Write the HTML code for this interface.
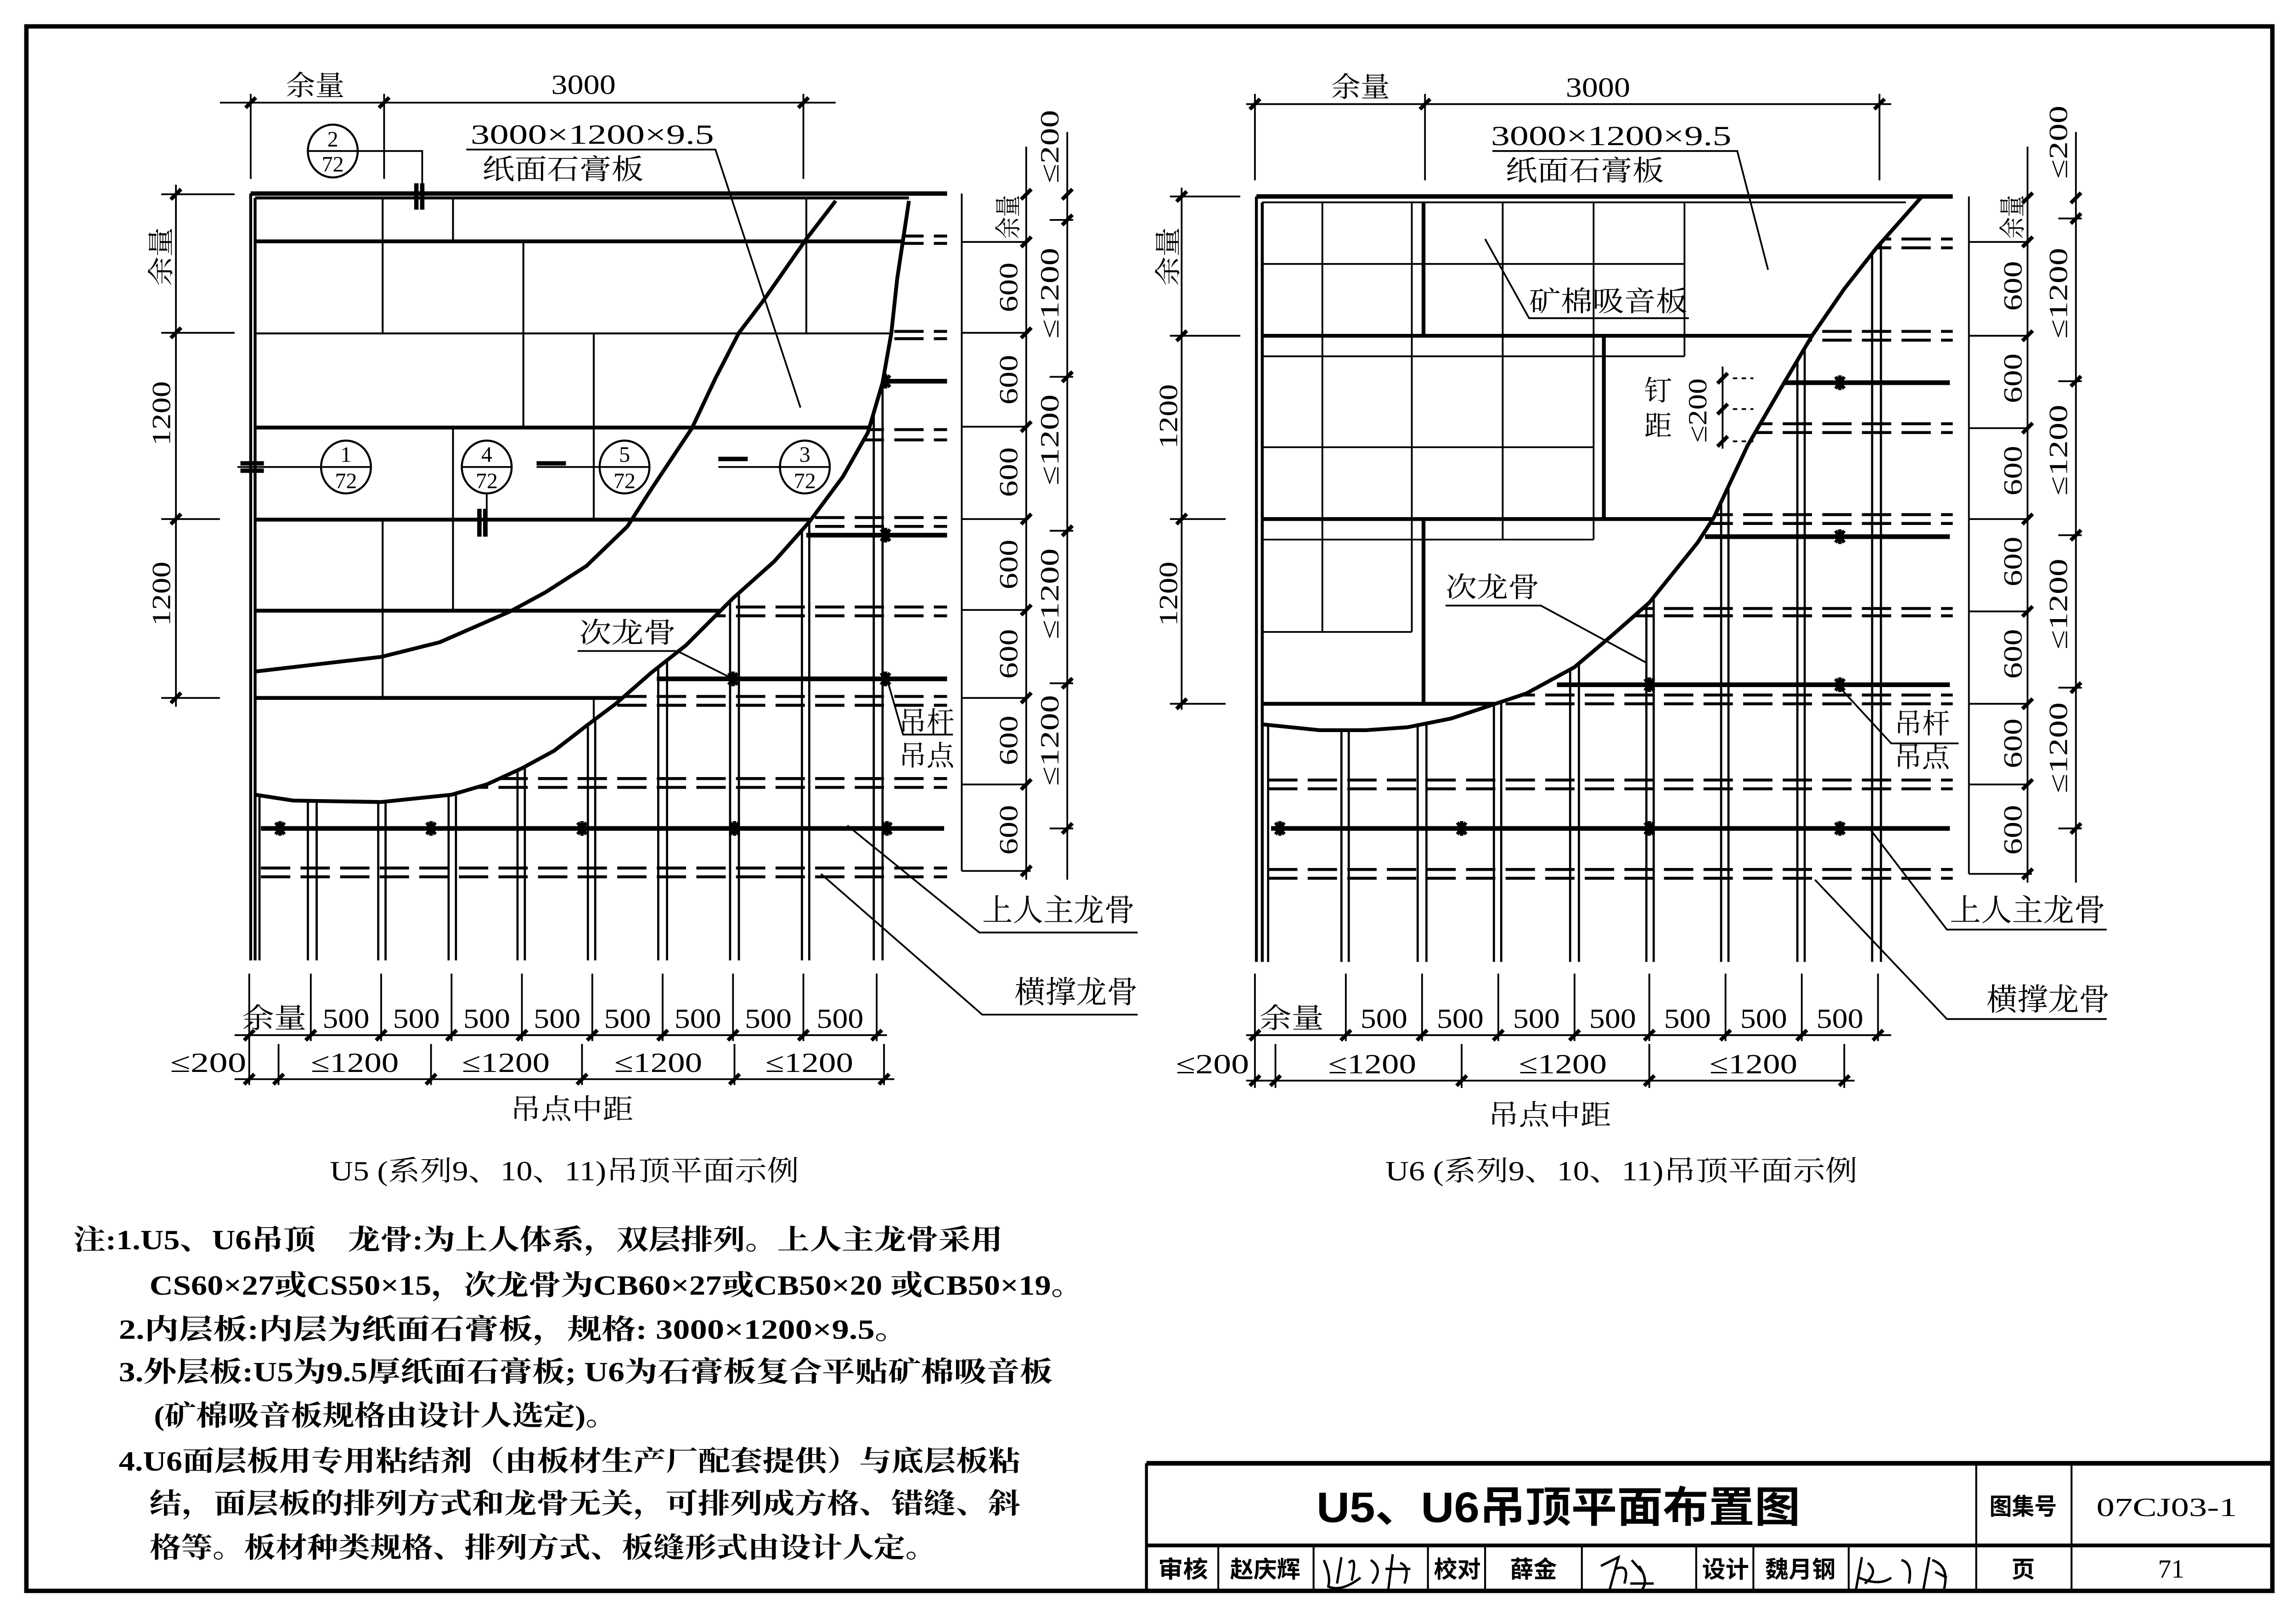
<!DOCTYPE html>
<html><head><meta charset="utf-8">
<style>
html,body{margin:0;padding:0;background:#fff;}
svg{display:block;}
text{font-family:"Liberation Serif","Noto Serif CJK SC",serif;fill:#000;}
.s{font-family:"Liberation Sans","Noto Sans CJK SC",sans-serif;}
</style></head>
<body>
<svg xmlns="http://www.w3.org/2000/svg" width="5006" height="3523" viewBox="0 0 1568 1103.5" preserveAspectRatio="none">
<defs>
<path id="tk" d="M-3.5,3.5 L3.5,-3.5" stroke="#000" stroke-width="2.6" fill="none"/>
<path id="hg" d="M-3,-4 L3,4 M3,-4 L-3,4 M0,-5 V5" stroke="#000" stroke-width="2.4" fill="none"/>
<clipPath id="c1"><path d="M171,132 L620,132 L620,137 L612,190 L608,227 L602,261 L592,295 L575,325 L552,356 L528,383 L500,408 L468,440 L444,459 L420,480 L400,495 L378,512 L356,524 L332,535 L308,542 L260,547 L200,546 L174,542 L171,542 Z"/></clipPath>
<clipPath id="c2"><path d="M857,134 L1311,134 L1280,169 L1258,197 L1236,229 L1217,261 L1192,304 L1169,353 L1158,370 L1125,411 L1100,433 L1074,455 L1041,473 L990,490 L960,496 L932,498 L900,498 L861,494 L857,494 Z"/></clipPath>
</defs>
<rect x="0" y="0" width="1568" height="1103.5" fill="#fff"/>
<!-- outer frame -->
<rect x="18" y="18" width="1532" height="1067" fill="none" stroke="#000" stroke-width="3"/>

<!-- ================= U5 ================= -->
<g stroke="#000" fill="none">
<!-- keels -->
<g stroke-width="1.5">
<path d="M171,132V655 M177,132V655 M210,132V655 M216,132V655 M258,132V655 M263,132V655 M306,132V655 M311,132V655 M353,132V655 M358,132V655 M401,132V655 M406,132V655 M449,132V655 M455,132V655 M498,132V655 M504,132V655 M547,132V655 M552,132V655 M596,132V655 M602,132V655"/>
</g>
<g stroke-width="2" stroke-dasharray="20 7">
<path d="M178,161H646 M178,166H646 M178,226H646 M178,231H646 M178,293H646 M178,300H646 M178,353H646 M178,359H646 M178,414H646 M178,420H646 M178,475H646 M178,481H646 M178,531H646 M178,537H646 M178,592H646 M178,598H646"/>
</g>
<g stroke-width="3.2">
<path d="M600,260H646 M550,365H646 M448,463H646 M178,565H644"/>
</g>
</g>
<g>
<use href="#hg" x="604" y="260"/><use href="#hg" x="604" y="365"/><use href="#hg" x="500" y="463"/><use href="#hg" x="604" y="463"/>
<use href="#hg" x="191" y="565"/><use href="#hg" x="294" y="565"/><use href="#hg" x="397" y="565"/><use href="#hg" x="501" y="565"/><use href="#hg" x="605" y="565"/>
</g>
<!-- board cutaway -->
<path d="M171,132 L620,132 L620,137 L612,190 L608,227 L602,261 L592,295 L575,325 L552,356 L528,383 L500,408 L468,440 L444,459 L420,480 L400,495 L378,512 L356,524 L332,535 L308,542 L260,547 L200,546 L174,542 L171,542 Z" fill="#fff" stroke="none"/>
<g clip-path="url(#c1)" stroke="#000" fill="none">
<path stroke-width="2.6" d="M174,164.6H620 M174,291.6H620 M174,354.4H620 M174,416.5H620 M174,476H620"/>
<path stroke-width="1.3" d="M174,227.4H620 M261,135V227 M309,135V165 M550,135V227 M357,165V292 M405,227V292 M309,292V416 M405,292V354 M261,354V476 M405,476V545 M261,416V476"/>
<path stroke-width="2.6" d="M570,137 L550,163 L520,206 L504,227 L488,258 L472,292 L444,334 L428,359 L400,386 L372,404 L348,417 L300,438 L260,448 L174,458"/>
</g>
<path d="M620,137 L612,190 L608,227 L602,261 L592,295 L575,325 L552,356 L528,383 L500,408 L468,440 L444,459 L420,480 L400,495 L378,512 L356,524 L332,535 L308,542 L260,547 L200,546 L174,542" fill="none" stroke="#000" stroke-width="2.6"/>
<path d="M171,132V655 M174,135V655 M171,132H646 M174,135H620" stroke="#000" stroke-width="2" fill="none"/>
<path d="M171,132H646" stroke="#000" stroke-width="3" fill="none"/>

<!-- U5 top dims -->
<g stroke="#000" stroke-width="1.2" fill="none">
<path d="M150,70H570 M171,64V122 M262,64V122 M548,64V122"/>
<path d="M120,126V482 M110,132.5H160 M110,227H160 M110,354H150 M110,476H150"/>
<!-- right dims -->
<path d="M656,132V594 M656,165H700 M656,227H700 M656,291H700 M656,354H700 M656,416H700 M656,476H700 M656,535H700 M656,594H703 M700,100V600"/>
<path d="M728,90V600 M716,150H732 M716,257H732 M716,362H732 M716,466H732 M716,565H732"/>
<!-- bottom dims -->
<path d="M170,664V740 M212,664V710 M260,664V710 M308,664V710 M356,664V710 M404,664V710 M452,664V710 M500,664V710 M548,664V710 M598,664V710 M160,706H605 M160,736H610 M190,712V740 M294,712V740 M397,712V740 M501,712V740 M603,712V740"/>
<!-- leaders -->
<path d="M578,563 L668,636 H776 M560,596 L670,692 H776 M605,463 L616,501 H650 M394,444 H462 L500,463 M318,102 H488 L546,278"/>
<!-- callout leaders -->
<path d="M244,103 H288 V132 M219,318.5 H162 M332,336 V366 M409,318.5 H366 M532,318.5 H490"/>
</g>
<g stroke="#000" stroke-width="3" fill="none">
<path d="M284,125V143 M288,125V143 M164,316H180 M164,321H180 M327,347V366 M331,347V366 M366,316H386 M490,313H510"/>
</g>
<g>
<use href="#tk" x="171" y="70"/><use href="#tk" x="262" y="70"/><use href="#tk" x="548" y="70"/>
<use href="#tk" x="120" y="132.5"/><use href="#tk" x="120" y="227"/><use href="#tk" x="120" y="354"/><use href="#tk" x="120" y="476"/>
<use href="#tk" x="700" y="132.5"/><use href="#tk" x="700" y="165"/><use href="#tk" x="700" y="227"/><use href="#tk" x="700" y="291"/><use href="#tk" x="700" y="354"/><use href="#tk" x="700" y="416"/><use href="#tk" x="700" y="476"/><use href="#tk" x="700" y="535"/><use href="#tk" x="700" y="594"/>
<use href="#tk" x="728" y="132.5"/><use href="#tk" x="728" y="150"/><use href="#tk" x="728" y="257"/><use href="#tk" x="728" y="362"/><use href="#tk" x="728" y="466"/><use href="#tk" x="728" y="565"/>
<use href="#tk" x="170" y="706"/><use href="#tk" x="212" y="706"/><use href="#tk" x="260" y="706"/><use href="#tk" x="308" y="706"/><use href="#tk" x="356" y="706"/><use href="#tk" x="404" y="706"/><use href="#tk" x="452" y="706"/><use href="#tk" x="500" y="706"/><use href="#tk" x="548" y="706"/><use href="#tk" x="598" y="706"/>
<use href="#tk" x="170" y="736"/><use href="#tk" x="190" y="736"/><use href="#tk" x="294" y="736"/><use href="#tk" x="397" y="736"/><use href="#tk" x="501" y="736"/><use href="#tk" x="603" y="736"/>
</g>
<!-- callout circles -->
<g stroke="#000" stroke-width="1.4" fill="#fff">
<ellipse cx="227" cy="103" rx="17" ry="18"/><ellipse cx="236" cy="318.5" rx="17" ry="18"/><ellipse cx="332" cy="318.5" rx="17" ry="18"/><ellipse cx="426" cy="318.5" rx="17" ry="18"/><ellipse cx="549" cy="318.5" rx="17" ry="18"/>
</g>
<g stroke="#000" stroke-width="1.2">
<path d="M210,103H244 M219,318.5H253 M315,318.5H349 M409,318.5H443 M532,318.5H566"/>
</g>
<g font-size="15" text-anchor="middle">
<text x="227" y="100">2</text><text x="227" y="117">72</text>
<text x="236" y="315">1</text><text x="236" y="333">72</text>
<text x="332" y="315">4</text><text x="332" y="333">72</text>
<text x="426" y="315">5</text><text x="426" y="333">72</text>
<text x="549" y="315">3</text><text x="549" y="333">72</text>
</g>
<!-- U5 labels -->
<g font-size="19" text-anchor="middle">
<text x="215" y="65" textLength="40" lengthAdjust="spacingAndGlyphs">余量</text>
<text x="398" y="64" textLength="44" lengthAdjust="spacingAndGlyphs">3000</text>
<text x="404" y="98" textLength="166" lengthAdjust="spacingAndGlyphs">3000×1200×9.5</text>
<text x="384" y="122" textLength="110" lengthAdjust="spacingAndGlyphs">纸面石膏板</text>
<text x="428" y="438" textLength="66" lengthAdjust="spacingAndGlyphs">次龙骨</text>
<text x="632" y="499" textLength="38" lengthAdjust="spacingAndGlyphs">吊杆</text>
<text x="632" y="522" textLength="38" lengthAdjust="spacingAndGlyphs">吊点</text>
<text x="722" y="628" font-size="21" textLength="104" lengthAdjust="spacingAndGlyphs">上人主龙骨</text>
<text x="734" y="684" font-size="21" textLength="84" lengthAdjust="spacingAndGlyphs">横撑龙骨</text>
<text x="187" y="701" textLength="44" lengthAdjust="spacingAndGlyphs">余量</text>
<text x="236" y="701" textLength="32" lengthAdjust="spacingAndGlyphs">500</text>
<text x="284" y="701" textLength="32" lengthAdjust="spacingAndGlyphs">500</text>
<text x="332" y="701" textLength="32" lengthAdjust="spacingAndGlyphs">500</text>
<text x="380" y="701" textLength="32" lengthAdjust="spacingAndGlyphs">500</text>
<text x="428" y="701" textLength="32" lengthAdjust="spacingAndGlyphs">500</text>
<text x="476" y="701" textLength="32" lengthAdjust="spacingAndGlyphs">500</text>
<text x="524" y="701" textLength="32" lengthAdjust="spacingAndGlyphs">500</text>
<text x="573" y="701" textLength="32" lengthAdjust="spacingAndGlyphs">500</text>
<text x="142" y="731" textLength="52" lengthAdjust="spacingAndGlyphs">≤200</text>
<text x="242" y="731" textLength="60" lengthAdjust="spacingAndGlyphs">≤1200</text>
<text x="345" y="731" textLength="60" lengthAdjust="spacingAndGlyphs">≤1200</text>
<text x="449" y="731" textLength="60" lengthAdjust="spacingAndGlyphs">≤1200</text>
<text x="552" y="731" textLength="60" lengthAdjust="spacingAndGlyphs">≤1200</text>
<text x="390" y="763" textLength="84" lengthAdjust="spacingAndGlyphs">吊点中距</text>
<text x="385" y="805" textLength="320" lengthAdjust="spacingAndGlyphs">U5 (系列9、10、11)吊顶平面示例</text>
</g>
<g font-size="18" text-anchor="middle">
<text transform="translate(110,175) rotate(-90)" y="6" textLength="40" lengthAdjust="spacingAndGlyphs">余量</text>
<text transform="translate(110,282) rotate(-90)" y="6" textLength="44" lengthAdjust="spacingAndGlyphs">1200</text>
<text transform="translate(110,405) rotate(-90)" y="6" textLength="44" lengthAdjust="spacingAndGlyphs">1200</text>
<text transform="translate(688,148) rotate(-90)" y="6" textLength="30" lengthAdjust="spacingAndGlyphs">余量</text>
<text transform="translate(688,196) rotate(-90)" y="6" textLength="34" lengthAdjust="spacingAndGlyphs">600</text>
<text transform="translate(688,259) rotate(-90)" y="6" textLength="34" lengthAdjust="spacingAndGlyphs">600</text>
<text transform="translate(688,322) rotate(-90)" y="6" textLength="34" lengthAdjust="spacingAndGlyphs">600</text>
<text transform="translate(688,385) rotate(-90)" y="6" textLength="34" lengthAdjust="spacingAndGlyphs">600</text>
<text transform="translate(688,446) rotate(-90)" y="6" textLength="34" lengthAdjust="spacingAndGlyphs">600</text>
<text transform="translate(688,505) rotate(-90)" y="6" textLength="34" lengthAdjust="spacingAndGlyphs">600</text>
<text transform="translate(688,566) rotate(-90)" y="6" textLength="34" lengthAdjust="spacingAndGlyphs">600</text>
<text transform="translate(716,100) rotate(-90)" y="6" textLength="50" lengthAdjust="spacingAndGlyphs">≤200</text>
<text transform="translate(716,200) rotate(-90)" y="6" textLength="62" lengthAdjust="spacingAndGlyphs">≤1200</text>
<text transform="translate(716,300) rotate(-90)" y="6" textLength="62" lengthAdjust="spacingAndGlyphs">≤1200</text>
<text transform="translate(716,405) rotate(-90)" y="6" textLength="62" lengthAdjust="spacingAndGlyphs">≤1200</text>
<text transform="translate(716,505) rotate(-90)" y="6" textLength="62" lengthAdjust="spacingAndGlyphs">≤1200</text>
</g>

<!-- ================= U6 ================= -->
<g stroke="#000" fill="none">
<g stroke-width="1.5">
<path d="M865,134V656 M915,134V656 M920,134V656 M967,134V656 M973,134V656 M1019,134V656 M1024,134V656 M1071,134V656 M1077,134V656 M1123,134V656 M1128,134V656 M1174,134V656 M1179,134V656 M1226,134V656 M1231,134V656 M1277,134V656 M1283,134V656"/>
</g>
<g stroke-width="2" stroke-dasharray="20 7">
<path d="M865,163H1332 M865,169H1332 M865,226H1332 M865,232H1332 M865,289H1332 M865,295H1332 M865,351H1332 M865,357H1332 M865,415H1332 M865,420H1332 M865,474H1332 M865,480H1332 M865,532H1332 M865,538H1332 M865,593H1332 M865,599H1332"/>
</g>
<g stroke-width="3.2">
<path d="M1217,261H1330 M1163,366H1330 M1062,467H1330 M867,565H1330"/>
</g>
</g>
<g>
<use href="#hg" x="1255" y="261"/><use href="#hg" x="1255" y="366"/><use href="#hg" x="1125" y="467"/><use href="#hg" x="1255" y="467"/>
<use href="#hg" x="873" y="565"/><use href="#hg" x="997" y="565"/><use href="#hg" x="1125" y="565"/><use href="#hg" x="1255" y="565"/>
</g>
<path d="M857,134 L1311,134 L1280,169 L1258,197 L1236,229 L1217,261 L1192,304 L1169,353 L1158,370 L1125,411 L1100,433 L1074,455 L1041,473 L990,490 L960,496 L932,498 L900,498 L861,494 L857,494 Z" fill="#fff" stroke="none"/>
<g clip-path="url(#c2)" stroke="#000" fill="none">
<path stroke-width="1.2" d="M902,138V431 M963,138V431 M1025,138V368 M1087,138V368 M1149,138V243 M861,180H1149 M861,243H1149 M861,305H1087 M861,368H1087 M861,431H963"/>
<path stroke-width="2.6" d="M861,229H1240 M861,354H1170 M861,480H1045 M971,138V229 M1094,229V354 M971,354V480"/>
<path stroke-width="1.2" d="M861,138H1300"/>
</g>
<path d="M1311,134 L1280,169 L1258,197 L1236,229 L1217,261 L1192,304 L1169,353 L1158,370 L1125,411 L1100,433 L1074,455 L1041,473 L990,490 L960,496 L932,498 L900,498 L861,494" fill="none" stroke="#000" stroke-width="2.6"/>
<path d="M857,134V656 M861,138V656" stroke="#000" stroke-width="2" fill="none"/>
<path d="M857,134H1332" stroke="#000" stroke-width="3" fill="none"/>

<g stroke="#000" stroke-width="1.2" fill="none">
<path d="M850,71H1290 M856,64V123 M972,64V123 M1282,64V123"/>
<path d="M806,128V484 M798,134H846 M798,229H846 M798,354H836 M798,480H836"/>
<path d="M1343,134V596 M1343,165H1383 M1343,229H1383 M1343,292H1383 M1343,354H1383 M1343,417H1383 M1343,480H1383 M1343,535H1383 M1343,596H1386 M1383,100V602"/>
<path d="M1416,90V602 M1404,149H1420 M1404,260H1420 M1404,365H1420 M1404,469H1420 M1404,565H1420"/>
<path d="M856,664V742 M918,664V710 M970,664V710 M1022,664V710 M1074,664V710 M1125,664V710 M1177,664V710 M1229,664V710 M1281,664V710 M850,706H1290 M850,737H1265 M870,712V742 M997,712V742 M1125,712V742 M1258,712V742"/>
<path d="M1276,566 L1328,634 H1437 M1238,600 L1328,695 H1437 M1255,469 L1290,507 H1336 M986,413 H1051 L1123,452 M1018,103 H1185 L1206,184 M1152,217 H1043 L1013,163"/>
<path d="M1175,250V306" />
</g>
<g stroke="#000" stroke-width="1.2" stroke-dasharray="3 3">
<path d="M1182,258H1196 M1182,279H1196 M1182,301H1196"/>
</g>
<g>
<use href="#tk" x="856" y="71"/><use href="#tk" x="972" y="71"/><use href="#tk" x="1282" y="71"/>
<use href="#tk" x="806" y="134"/><use href="#tk" x="806" y="229"/><use href="#tk" x="806" y="354"/><use href="#tk" x="806" y="480"/>
<use href="#tk" x="1383" y="135"/><use href="#tk" x="1383" y="165"/><use href="#tk" x="1383" y="229"/><use href="#tk" x="1383" y="292"/><use href="#tk" x="1383" y="354"/><use href="#tk" x="1383" y="417"/><use href="#tk" x="1383" y="480"/><use href="#tk" x="1383" y="535"/><use href="#tk" x="1383" y="596"/>
<use href="#tk" x="1416" y="135"/><use href="#tk" x="1416" y="149"/><use href="#tk" x="1416" y="260"/><use href="#tk" x="1416" y="365"/><use href="#tk" x="1416" y="469"/><use href="#tk" x="1416" y="565"/>
<use href="#tk" x="856" y="706"/><use href="#tk" x="918" y="706"/><use href="#tk" x="970" y="706"/><use href="#tk" x="1022" y="706"/><use href="#tk" x="1074" y="706"/><use href="#tk" x="1125" y="706"/><use href="#tk" x="1177" y="706"/><use href="#tk" x="1229" y="706"/><use href="#tk" x="1281" y="706"/>
<use href="#tk" x="856" y="737"/><use href="#tk" x="870" y="737"/><use href="#tk" x="997" y="737"/><use href="#tk" x="1125" y="737"/><use href="#tk" x="1258" y="737"/>
<use href="#tk" x="1175" y="258"/><use href="#tk" x="1175" y="279"/><use href="#tk" x="1175" y="301"/>
</g>
<g font-size="19" text-anchor="middle">
<text x="928" y="66" textLength="40" lengthAdjust="spacingAndGlyphs">余量</text>
<text x="1090" y="66" textLength="44" lengthAdjust="spacingAndGlyphs">3000</text>
<text x="1099" y="99" textLength="164" lengthAdjust="spacingAndGlyphs">3000×1200×9.5</text>
<text x="1081" y="123" textLength="108" lengthAdjust="spacingAndGlyphs">纸面石膏板</text>
<text x="1097" y="212" textLength="108" lengthAdjust="spacingAndGlyphs">矿棉吸音板</text>
<text x="1131" y="273">钉</text>
<text x="1131" y="297">距</text>
<text x="1018" y="407" textLength="64" lengthAdjust="spacingAndGlyphs">次龙骨</text>
<text x="1311" y="500" textLength="38" lengthAdjust="spacingAndGlyphs">吊杆</text>
<text x="1311" y="523" textLength="38" lengthAdjust="spacingAndGlyphs">吊点</text>
<text x="1383" y="628" font-size="21" textLength="106" lengthAdjust="spacingAndGlyphs">上人主龙骨</text>
<text x="1397" y="689" font-size="21" textLength="84" lengthAdjust="spacingAndGlyphs">横撑龙骨</text>
<text x="881" y="701" textLength="44" lengthAdjust="spacingAndGlyphs">余量</text>
<text x="944" y="701" textLength="32" lengthAdjust="spacingAndGlyphs">500</text>
<text x="996" y="701" textLength="32" lengthAdjust="spacingAndGlyphs">500</text>
<text x="1048" y="701" textLength="32" lengthAdjust="spacingAndGlyphs">500</text>
<text x="1100" y="701" textLength="32" lengthAdjust="spacingAndGlyphs">500</text>
<text x="1151" y="701" textLength="32" lengthAdjust="spacingAndGlyphs">500</text>
<text x="1203" y="701" textLength="32" lengthAdjust="spacingAndGlyphs">500</text>
<text x="1255" y="701" textLength="32" lengthAdjust="spacingAndGlyphs">500</text>
<text x="827" y="732" textLength="50" lengthAdjust="spacingAndGlyphs">≤200</text>
<text x="936" y="732" textLength="60" lengthAdjust="spacingAndGlyphs">≤1200</text>
<text x="1066" y="732" textLength="60" lengthAdjust="spacingAndGlyphs">≤1200</text>
<text x="1196" y="732" textLength="60" lengthAdjust="spacingAndGlyphs">≤1200</text>
<text x="1057" y="767" textLength="84" lengthAdjust="spacingAndGlyphs">吊点中距</text>
<text x="1106" y="805" textLength="322" lengthAdjust="spacingAndGlyphs">U6 (系列9、10、11)吊顶平面示例</text>
</g>
<g font-size="18" text-anchor="middle">
<text transform="translate(797,175) rotate(-90)" y="6" textLength="40" lengthAdjust="spacingAndGlyphs">余量</text>
<text transform="translate(797,284) rotate(-90)" y="6" textLength="44" lengthAdjust="spacingAndGlyphs">1200</text>
<text transform="translate(797,405) rotate(-90)" y="6" textLength="44" lengthAdjust="spacingAndGlyphs">1200</text>
<text transform="translate(1158,280) rotate(-90)" y="6" textLength="44" lengthAdjust="spacingAndGlyphs">≤200</text>
<text transform="translate(1373,148) rotate(-90)" y="6" textLength="30" lengthAdjust="spacingAndGlyphs">余量</text>
<text transform="translate(1373,195) rotate(-90)" y="6" textLength="34" lengthAdjust="spacingAndGlyphs">600</text>
<text transform="translate(1373,258) rotate(-90)" y="6" textLength="34" lengthAdjust="spacingAndGlyphs">600</text>
<text transform="translate(1373,321) rotate(-90)" y="6" textLength="34" lengthAdjust="spacingAndGlyphs">600</text>
<text transform="translate(1373,383) rotate(-90)" y="6" textLength="34" lengthAdjust="spacingAndGlyphs">600</text>
<text transform="translate(1373,446) rotate(-90)" y="6" textLength="34" lengthAdjust="spacingAndGlyphs">600</text>
<text transform="translate(1373,507) rotate(-90)" y="6" textLength="34" lengthAdjust="spacingAndGlyphs">600</text>
<text transform="translate(1373,566) rotate(-90)" y="6" textLength="34" lengthAdjust="spacingAndGlyphs">600</text>
<text transform="translate(1404,97) rotate(-90)" y="6" textLength="50" lengthAdjust="spacingAndGlyphs">≤200</text>
<text transform="translate(1404,200) rotate(-90)" y="6" textLength="62" lengthAdjust="spacingAndGlyphs">≤1200</text>
<text transform="translate(1404,307) rotate(-90)" y="6" textLength="62" lengthAdjust="spacingAndGlyphs">≤1200</text>
<text transform="translate(1404,412) rotate(-90)" y="6" textLength="62" lengthAdjust="spacingAndGlyphs">≤1200</text>
<text transform="translate(1404,510) rotate(-90)" y="6" textLength="62" lengthAdjust="spacingAndGlyphs">≤1200</text>
</g>

<!-- ================= Notes ================= -->
<g font-size="19" font-weight="bold">
<text x="50" y="852" textLength="634" lengthAdjust="spacingAndGlyphs">注:1.U5、U6吊顶　龙骨:为上人体系，双层排列。上人主龙骨采用</text>
<text x="102" y="883" textLength="637" lengthAdjust="spacingAndGlyphs">CS60×27或CS50×15，次龙骨为CB60×27或CB50×20 或CB50×19。</text>
<text x="81" y="913" textLength="539" lengthAdjust="spacingAndGlyphs">2.内层板:内层为纸面石膏板，规格: 3000×1200×9.5。</text>
<text x="81" y="942" textLength="637" lengthAdjust="spacingAndGlyphs">3.外层板:U5为9.5厚纸面石膏板; U6为石膏板复合平贴矿棉吸音板</text>
<text x="105" y="972" textLength="316" lengthAdjust="spacingAndGlyphs">(矿棉吸音板规格由设计人选定)。</text>
<text x="81" y="1003" textLength="615" lengthAdjust="spacingAndGlyphs">4.U6面层板用专用粘结剂（由板材生产厂配套提供）与底层板粘</text>
<text x="102" y="1032" textLength="594" lengthAdjust="spacingAndGlyphs">结，面层板的排列方式和龙骨无关，可排列成方格、错缝、斜</text>
<text x="102" y="1062" textLength="537" lengthAdjust="spacingAndGlyphs">格等。板材种类规格、排列方式、板缝形式由设计人定。</text>
</g>

<!-- ================= Title block ================= -->
<g stroke="#000" fill="none">
<path d="M782,998H1549" stroke-width="3.2"/>
<path d="M782,1054H1549" stroke-width="2.6"/>
<path d="M782,998V1086" stroke-width="2"/>
<path stroke-width="1.3" d="M1348,998V1086 M1413,998V1086 M831,1054V1086 M896,1054V1086 M974,1054V1086 M1013,1054V1086 M1079,1054V1086 M1157,1054V1086 M1196,1054V1086 M1261,1054V1086"/>
<!-- signatures -->
<path stroke-width="1.6" d="M903,1064 Q908,1075 906,1082 Q915,1086 928,1076 M915,1062 L912,1080 M920,1066 Q926,1060 922,1078 M935,1064 Q944,1070 936,1080 M950,1060 L947,1084 M955,1066 Q962,1068 958,1080 M945,1070 H962"/>
<path stroke-width="1.6" d="M1092,1068 L1104,1062 L1098,1084 M1102,1070 Q1112,1066 1108,1080 M1113,1064 L1120,1072 M1118,1068 Q1126,1080 1118,1086 M1112,1080 H1128"/>
<path stroke-width="1.6" d="M1270,1062 L1266,1084 M1274,1066 Q1282,1072 1272,1080 M1268,1076 Q1282,1082 1290,1076 M1297,1064 Q1305,1066 1302,1080 M1316,1062 L1312,1084 M1318,1064 Q1330,1068 1326,1084 M1320,1072 L1328,1076"/>
</g>
<text class="s" x="1063" y="1038" font-size="29" font-weight="bold" text-anchor="middle" textLength="330" lengthAdjust="spacingAndGlyphs">U5、U6吊顶平面布置图</text>
<text class="s" x="1380" y="1033" font-size="16" font-weight="bold" text-anchor="middle" textLength="46" lengthAdjust="spacingAndGlyphs">图集号</text>
<text x="1478" y="1034" font-size="18" text-anchor="middle" textLength="96" lengthAdjust="spacingAndGlyphs">07CJ03-1</text>
<g class="s" font-size="16" font-weight="bold" text-anchor="middle">
<text class="s" x="807" y="1076" textLength="34" lengthAdjust="spacingAndGlyphs">审核</text>
<text class="s" x="863" y="1076" textLength="48" lengthAdjust="spacingAndGlyphs">赵庆辉</text>
<text class="s" x="994" y="1076" textLength="32" lengthAdjust="spacingAndGlyphs">校对</text>
<text class="s" x="1046" y="1076" textLength="32" lengthAdjust="spacingAndGlyphs">薛金</text>
<text class="s" x="1177" y="1076" textLength="32" lengthAdjust="spacingAndGlyphs">设计</text>
<text class="s" x="1228" y="1076" textLength="48" lengthAdjust="spacingAndGlyphs">魏月钢</text>
<text class="s" x="1380" y="1076">页</text>
</g>
<text x="1481" y="1076" font-size="18" text-anchor="middle">71</text>
</svg>
</body></html>
